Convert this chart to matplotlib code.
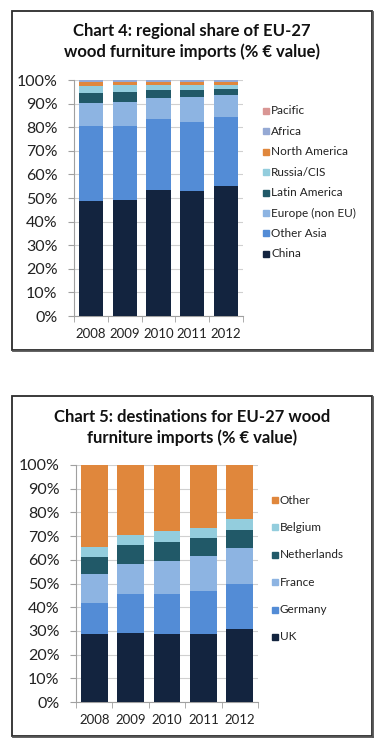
import matplotlib
matplotlib.use("Agg")
import matplotlib.pyplot as plt
from matplotlib.patches import Rectangle
import numpy as np

plt.rcParams['font.family'] = ['Lato', 'DejaVu Sans']

years = ['2008', '2009', '2010', '2011', '2012']

# Chart 4: regional share of EU-27 wood furniture imports (%)
regions = ['China', 'Other Asia', 'Europe (non EU)', 'Latin America',
           'Russia/CIS', 'North America', 'Africa', 'Pacific']
china = [48.8, 49.2, 53.2, 52.8, 55.0]
other_asia = [31.5, 31.4, 30.3, 29.5, 29.2]
europe_non_eu = [9.8, 10.2, 8.8, 10.4, 9.3]
latin_america = [4.5, 4.3, 3.6, 2.9, 2.7]
russia_cis = [3.0, 2.8, 2.1, 2.3, 1.7]
north_america = [1.6, 1.3, 1.2, 1.3, 1.3]
africa = [0.6, 0.6, 0.6, 0.6, 0.6]
pacific = [0.2, 0.2, 0.2, 0.2, 0.2]
region_values = [china, other_asia, europe_non_eu, latin_america,
                 russia_cis, north_america, africa, pacific]
region_colors = ['#13243f', '#538cd6', '#8db4e2', '#215968',
                 '#93cddd', '#e0873c', '#95a9d4', '#d99694']

# Chart 5: destinations for EU-27 wood furniture imports (%)
dests = ['UK', 'Germany', 'France', 'Netherlands', 'Belgium', 'Other']
uk = [28.8, 29.2, 28.9, 28.5, 31.0]
germany = [13.1, 16.4, 16.7, 18.4, 18.7]
france = [12.2, 12.8, 14.1, 14.6, 15.3]
netherlands = [7.1, 7.8, 7.7, 7.5, 7.6]
belgium = [4.4, 4.2, 4.9, 4.6, 4.6]
other = [34.4, 29.6, 27.7, 26.4, 22.8]
dest_values = [uk, germany, france, netherlands, belgium, other]
dest_colors = ['#13243f', '#538cd6', '#8db4e2', '#215968', '#93cddd', '#e0873c']

W, H = 386, 748
fig = plt.figure(figsize=(W / 100, H / 100), dpi=100)
fig.patch.set_facecolor('white')


def fx(px):
    return px / W


def fy(py):
    return 1 - py / H


def box(x0, y0, x1, y1):
    fig.patches.append(Rectangle((fx(x0), fy(y1)), fx(x1) - fx(x0), fy(y0) - fy(y1),
                                 transform=fig.transFigure, fill=False,
                                 edgecolor='#2b2b2b', lw=1.3))
    # shadow on right/bottom
    fig.lines.append(plt.Line2D([fx(x0 + 1), fx(x1 + 1)], [fy(y1 + 1)] * 2,
                                transform=fig.transFigure, color='#555555', lw=1.3))
    fig.lines.append(plt.Line2D([fx(x1 + 1)] * 2, [fy(y0 + 1), fy(y1 + 1)],
                                transform=fig.transFigure, color='#555555', lw=1.3))


def chart(ax_px, values, labels, colors, width, title_lines, title_y, leg_x, leg_y0, leg_dy):
    x0, y0, x1, y1 = ax_px
    ax = fig.add_axes([fx(x0), fy(y1), fx(x1) - fx(x0), fy(y0) - fy(y1)])
    x = np.arange(len(years))
    bottom = np.zeros(len(years))
    for vals, lab, col in zip(values, labels, colors):
        ax.bar(x, vals, width=width, bottom=bottom, color=col, label=lab, zorder=3)
        bottom += np.array(vals)
    ax.set_xlim(-0.5, len(years) - 0.5)
    ax.set_ylim(0, 100)
    ax.set_yticks(np.arange(0, 101, 10))
    ax.set_yticklabels([f'{v}%' for v in range(0, 101, 10)], fontsize=11.5, color='#222222')
    ax.set_xticks(x)
    ax.set_xticklabels(years, fontsize=9.5, color='#222222')
    ax.set_xticks(np.arange(-0.5, len(years)), minor=True)
    ax.tick_params(axis='x', which='major', length=0, pad=9)
    ax.tick_params(axis='x', which='minor', length=4, color='#a0a0a0', direction='out')
    ax.tick_params(axis='y', length=4, color='#a0a0a0', pad=8)
    ax.grid(axis='y', color='#d0d0d0', lw=0.8, zorder=0)
    for s in ['top', 'right']:
        ax.spines[s].set_visible(False)
    for s in ['left', 'bottom']:
        ax.spines[s].set_color('#a0a0a0')
        ax.spines[s].set_linewidth(0.8)
    # title
    for i, t in enumerate(title_lines):
        fig.text(fx(192), fy(title_y[i]), t, ha='center', va='center',
                 fontsize=12, fontweight='bold', color='#111111')
    # legend (top entry = last series)
    for i, (lab, col) in enumerate(zip(labels[::-1], colors[::-1])):
        yy = leg_y0 + i * leg_dy
        fig.patches.append(Rectangle((fx(leg_x - 3), fy(yy + 3)), fx(6), 6 / H,
                                     transform=fig.transFigure, color=col))
        fig.text(fx(leg_x + 5), fy(yy), lab, ha='left', va='center',
                 fontsize=8.5, color='#222222')
    return ax


box(12, 11, 372, 350)
chart((74, 80, 243, 316), region_values, regions, region_colors, 0.72,
      ['Chart 4: regional share of EU-27', 'wood furniture imports (% \u20ac value)'],
      [31, 52], 266, 111, 20.4)

box(12, 396, 372, 736)
chart((76, 465, 258, 702), dest_values, dests, dest_colors, 0.74,
      ['Chart 5: destinations for EU-27 wood', 'furniture imports (% \u20ac value)'],
      [417, 438], 275, 500, 27.4)

fig.savefig('out.png', dpi=100, facecolor='white')
